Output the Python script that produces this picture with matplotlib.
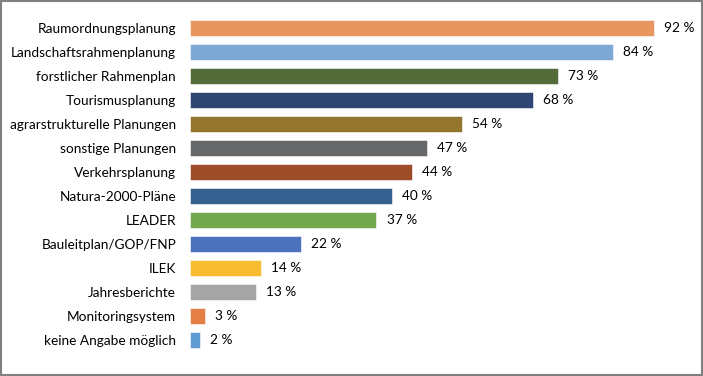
import matplotlib
matplotlib.use("Agg")
import matplotlib.pyplot as plt
from matplotlib.patches import Rectangle
import numpy as np

# ---------------------------------------------------------------------------
# Data
# ---------------------------------------------------------------------------

categories = [
    "Raumordnungsplanung", "Landschaftsrahmenplanung", "forstlicher Rahmenplan",
    "Tourismusplanung", "agrarstrukturelle Planungen", "sonstige Planungen",
    "Verkehrsplanung", "Natura-2000-Pläne", "LEADER", "Bauleitplan/GOP/FNP",
    "ILEK", "Jahresberichte", "Monitoringsystem", "keine Angabe möglich",
]
values = [92, 84, 73, 68, 54, 47, 44, 40, 37, 22, 14, 13, 3, 2]
colors = [
    "#E9955F", "#7EA8D4", "#546B3A", "#2F4672", "#94752E", "#666769", "#9C4C26",
    "#345F8F", "#74A84E", "#4D72BD", "#F7BC30", "#A5A5A5", "#E47F45", "#5E9BD3",
]

plt.rcParams["font.family"] = ["Lato", "DejaVu Sans"]

fig = plt.figure(figsize=(7.03, 3.76), dpi=100)
ax = fig.add_axes([190 / 703, 24 / 376, 504 / 703, 336 / 376])

y = np.arange(len(categories))
ax.barh(y, values, height=0.66, color=colors, edgecolor="white", linewidth=0.4)

for yi, v in zip(y, values):
    ax.text(v + 2.0, yi, f"{v} %", va="center", ha="left", fontsize=9.8, color="black")

ax.set_xlim(0, 100)
ax.set_ylim(len(categories) - 0.5, -0.5)
ax.set_yticks(y)
ax.set_yticklabels(categories, fontsize=9.8, color="black")
ax.tick_params(axis="y", length=0, pad=10)
ax.set_xticks([])
for s in ax.spines.values():
    s.set_visible(False)

# outer frame
fig.patches.append(Rectangle((0.001, 0.003), 0.997, 0.994, transform=fig.transFigure,
                             fill=False, edgecolor="#808080", linewidth=1.5))

fig.savefig("out.png", dpi=100)
